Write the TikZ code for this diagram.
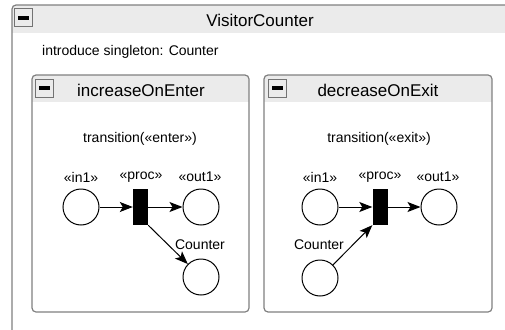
\documentclass[tikz,border=0pt]{standalone}
\usepackage{fontspec}
\setmainfont{Liberation Sans}
\usetikzlibrary{arrows.meta}

\tikzset{
  frame/.style={draw=black!50,line width=1.2pt},
  head/.style={fill=black!8},
  place/.style={draw,circle,line width=1pt,minimum size=36pt,inner sep=0pt},
  trans/.style={fill=black,minimum width=15pt,minimum height=36pt,inner sep=0pt},
  arc/.style={line width=1pt,-{Stealth[length=13pt,width=10pt,inset=3pt]}},
  lbl/.style={font=\fontsize{14}{16}\selectfont,inner sep=0pt},
  ttl/.style={font=\fontsize{17}{20}\selectfont,inner sep=0pt},
  minusbox/.style={draw=black!55,fill=black!8,line width=1pt,minimum size=18pt,inner sep=0pt,
    path picture={\fill[black] (path picture bounding box.center) ++(-5.5pt,-1.6pt) rectangle ++(11pt,3.2pt);}}
}

\begin{document}
\begin{tikzpicture}[x=1pt,y=-1pt]
  \useasboundingbox (0,0) rectangle (505,329);

  % outer box
  \begin{scope}
    \clip[rounded corners=4pt] (12,5) rectangle (520,340);
    \fill[head] (12,5) rectangle (520,33);
  \end{scope}
  \draw[frame,rounded corners=4pt] (12,340) -- (12,5) -- (520,5);
  \node[minusbox] (vcmin) at (23,18) {};
  \node[ttl] (vctitle) at (260,20) {VisitorCounter};
  \node[lbl,anchor=west] (intro) at (42,52) {introduce singleton: Counter};

  % left box
  \begin{scope}
    \clip[rounded corners=4pt] (32,75) rectangle (249,312);
    \fill[head] (32,75) rectangle (249,102);
  \end{scope}
  \draw[frame,rounded corners=4pt] (32,75) rectangle (249,312);
  \node[minusbox] (incmin) at (44.5,88) {};
  \node[ttl] (inctitle) at (141,90) {increaseOnEnter};
  \node[lbl] (inctr) at (140,139) {transition(«enter»)};

  \node[place] (in1) at (81,207) {};
  \node[trans] (p1) at (140.5,207) {};
  \node[place] (out1) at (201,207) {};
  \node[place] (c1) at (201,277) {};
  \node[lbl] (in1l) at (81,177) {«in1»};
  \node[lbl] (p1l) at (141,177) {«proc»};
  \node[lbl] (out1l) at (200,177) {«out1»};
  \node[lbl] (c1l) at (200,245) {Counter};

  \draw[arc] (in1) -- (p1);
  \draw[arc] (p1) -- (out1);
  \draw[arc] (p1.south east) -- (c1);

  % right box
  \begin{scope}
    \clip[rounded corners=4pt] (264,75) rectangle (492,312);
    \fill[head] (264,75) rectangle (492,102);
  \end{scope}
  \draw[frame,rounded corners=4pt] (264,75) rectangle (492,312);
  \node[minusbox] (decmin) at (277,88) {};
  \node[ttl] (dectitle) at (378,90) {decreaseOnExit};
  \node[lbl] (dectr) at (379,139) {transition(«exit»)};

  \node[place] (in2) at (320,207) {};
  \node[trans] (p2) at (380,207) {};
  \node[place] (out2) at (439,207) {};
  \node[place] (c2) at (320,278) {};
  \node[lbl] (in2l) at (320,177) {«in1»};
  \node[lbl] (p2l) at (380,177) {«proc»};
  \node[lbl] (out2l) at (438,177) {«out1»};
  \node[lbl] (c2l) at (319,245) {Counter};

  \draw[arc] (in2) -- (p2);
  \draw[arc] (p2) -- (out2);
  \draw[arc] (c2) -- (p2.south west);
\end{tikzpicture}
\end{document}
